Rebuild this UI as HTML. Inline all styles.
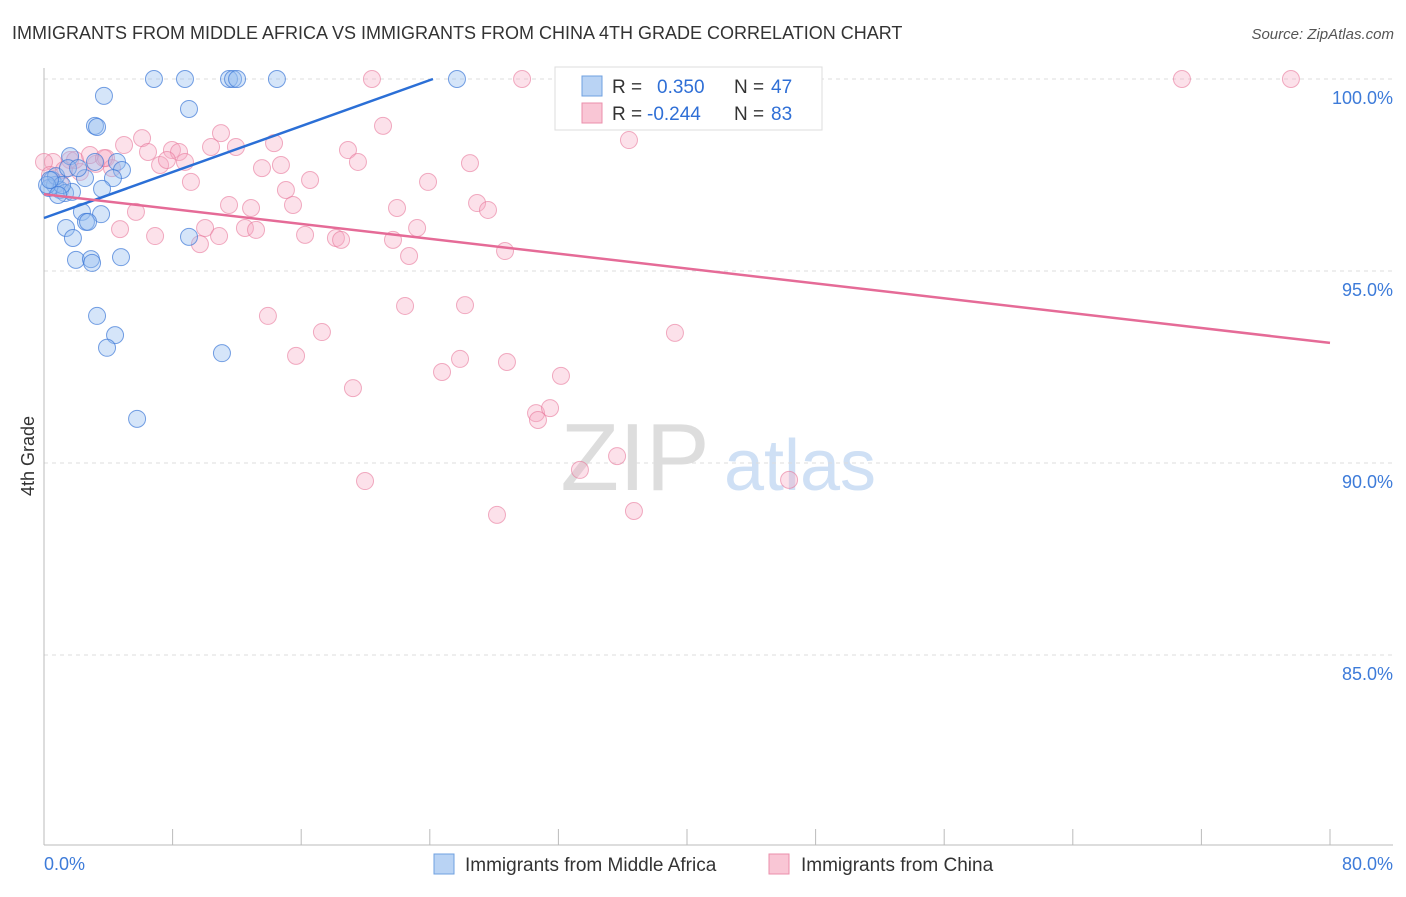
<!DOCTYPE html>
<html><head><meta charset="utf-8">
<style>
body{margin:0;background:#fff;font-family:"Liberation Sans",sans-serif;}
svg text{font-family:"Liberation Sans",sans-serif;}
</style></head>
<body>
<svg id="chart" width="1406" height="892" viewBox="0 0 1406 892" xmlns="http://www.w3.org/2000/svg">
<text x="12" y="39" font-size="18" fill="#333">IMMIGRANTS FROM MIDDLE AFRICA VS IMMIGRANTS FROM CHINA 4TH GRADE CORRELATION CHART</text>
<text x="1394" y="39" font-size="15" fill="#555" text-anchor="end" font-style="italic">Source: ZipAtlas.com</text>
<text x="34" y="456" font-size="18" fill="#333" transform="rotate(-90 34 456)" text-anchor="middle">4th Grade</text>
<g>
<text x="635" y="490" font-size="96" fill="#ddd" text-anchor="middle" font-family="Liberation Serif">ZIP</text>
<text x="800" y="490" font-size="72" fill="#cfe0f5" text-anchor="middle">atlas</text>
</g>
<g id="grid"></g>
<g id="axes"></g>
<g id="marks"></g>
<g>
<rect x="555" y="67" width="267" height="63" fill="#fff" stroke="#ddd"/>
<rect x="582" y="76" width="20" height="20" fill="#b9d3f4" stroke="#6fa0e0"/>
<text x="612" y="93" font-size="19" fill="#333">R =</text>
<text x="657" y="93" font-size="19" fill="#2f6fd6">0.350</text>
<text x="734" y="93" font-size="19" fill="#333">N =</text>
<text x="771" y="93" font-size="19" fill="#2f6fd6">47</text>
<rect x="582" y="103" width="20" height="20" fill="#f9c6d5" stroke="#eb8fab"/>
<text x="612" y="120" font-size="19" fill="#333">R =</text>
<text x="647" y="120" font-size="19" fill="#2f6fd6">-0.244</text>
<text x="734" y="120" font-size="19" fill="#333">N =</text>
<text x="771" y="120" font-size="19" fill="#2f6fd6">83</text>
</g>
<g>
<rect x="434" y="854" width="20" height="20" fill="#b9d3f4" stroke="#6fa0e0"/>
<text x="465" y="871" font-size="19" fill="#333">Immigrants from Middle Africa</text>
<rect x="769" y="854" width="20" height="20" fill="#f9c6d5" stroke="#eb8fab"/>
<text x="801" y="871" font-size="19" fill="#333">Immigrants from China</text>
</g>
</svg>
<script>
const blueX=[6.84,8.77,11.51,11.76,12.01,14.49,25.69,3.73,9.02,3.17,3.30,1.62,4.54,4.85,2.55,4.29,0.50,0.68,1.0,1.31,1.74,0.31,3.61,2.36,3.55,2.61,1.37,2.74,1.80,9.02,1.99,2.92,2.99,4.79,3.30,4.42,3.92,11.07,5.79,0.75,1.12,0.19,0.37,0.87,1.49,2.12,3.17];
const blueY=[100,100,100,100,100,100,100,99.56,99.22,98.78,98.75,97.99,97.84,97.63,97.42,97.42,97.37,97.24,97.11,97.03,97.06,97.16,97.14,96.54,96.48,96.28,96.12,96.28,95.86,95.89,95.29,95.31,95.21,95.36,93.83,93.33,93.0,92.86,91.15,97.47,97.24,97.24,97.37,96.98,97.68,97.68,97.84];
const pinkX=[32.91,29.74,20.40,41.18,70.79,77.57,0.56,0,1.62,3.23,3.86,4.98,6.10,6.47,7.22,7.96,8.40,8.77,7.65,9.14,10.39,11.01,11.94,14.31,13.56,14.74,15.05,16.55,15.49,11.51,12.88,10.02,12.50,13.19,10.89,9.70,6.91,5.72,4.73,16.24,18.16,18.48,18.91,19.53,21.09,21.71,21.96,22.71,23.21,23.89,26.50,26.94,27.62,28.68,36.39,22.46,26.19,17.29,15.68,19.22,24.76,25.88,28.80,32.16,39.25,13.93,30.61,31.48,30.73,33.34,35.65,19.97,28.18,36.70,46.35,4.23,2.24,1.0,1.93,1.24,2.86,0.37,3.73];
const pinkY=[100,100,100,100,100,100,97.84,97.84,97.89,97.79,97.94,98.28,98.46,98.10,97.76,98.15,98.10,97.84,97.89,97.32,98.23,98.59,98.23,98.33,97.68,97.76,97.11,97.37,96.72,96.72,96.64,96.12,96.12,96.07,95.91,95.70,95.91,96.54,96.09,95.94,95.86,95.81,98.15,97.84,98.78,95.81,96.64,95.39,96.12,97.32,97.81,96.77,96.59,95.52,98.41,94.09,94.11,93.41,92.79,91.95,92.37,92.71,92.63,92.27,93.39,93.83,91.30,91.43,91.12,89.82,90.18,89.53,88.65,88.75,89.56,97.68,97.58,97.29,97.89,97.63,98.02,97.50,97.94];
const blueTrend=[96.38,0.1496];
const pinkTrend=[97.0,-0.0484];
const yTicks=[100,95,90,85];
const yTickLabels=["100.0%","95.0%","90.0%","85.0%"];
const xTicks=[0,8,16,24,32,40,48,56,64,72,80];
const xEndLabels=["0.0%","80.0%"];

const NS="http://www.w3.org/2000/svg";
const X0=44,X1=1330,YTOP=79;
function xs(v){return X0+(X1-X0)*v/80;}
function ys(v){return YTOP+(100-v)*38.4;}
function mk(tag,attrs,parent){const e=document.createElementNS(NS,tag);for(const k in attrs)e.setAttribute(k,attrs[k]);parent.appendChild(e);return e;}
const grid=document.getElementById('grid'),axes=document.getElementById('axes'),marks=document.getElementById('marks');
yTicks.forEach((t,i)=>{
  const l=mk('line',{x1:44,x2:1393,y1:ys(t),y2:ys(t),stroke:'#ddd','stroke-dasharray':'4,4'},grid);
  
  
  const tx=mk('text',{x:1393,y:ys(t)+25,'font-size':18,fill:'#3d7bd9','text-anchor':'end'},axes);
  tx.textContent=yTickLabels[i];
  
  
});
const ya=mk('line',{x1:44,x2:44,y1:68,y2:845,stroke:'#bbb'},axes);


const xa=mk('line',{x1:44,x2:1393,y1:845,y2:845,stroke:'#bbb'},axes);


xTicks.forEach(t=>{
  const l=mk('line',{x1:xs(t),x2:xs(t),y1:829,y2:845,stroke:'#bbb'},axes);
  
  
});
const xl0=mk('text',{x:44,y:870,'font-size':18,fill:'#3d7bd9'},axes);xl0.textContent=xEndLabels[0];


const xl1=mk('text',{x:1393,y:870,'font-size':18,fill:'#3d7bd9','text-anchor':'end'},axes);xl1.textContent=xEndLabels[1];



pinkX.forEach((v,i)=>{
  const c=mk('circle',{cx:xs(v),cy:ys(pinkY[i]),r:8.5,fill:'rgba(246,170,195,0.35)',stroke:'rgba(232,120,155,0.6)','stroke-width':1},marks);
  
  
});
blueX.forEach((v,i)=>{
  const c=mk('circle',{cx:xs(v),cy:ys(blueY[i]),r:8.5,fill:'rgba(150,190,240,0.4)',stroke:'rgba(60,120,215,0.7)','stroke-width':1},marks);
  
  
});
const bEnd=(100-blueTrend[0])/blueTrend[1];
const bl=mk('line',{x1:xs(0),y1:ys(blueTrend[0]),x2:xs(bEnd),y2:ys(100),stroke:'#2b6fd6','stroke-width':2.5},marks);


const pl=mk('line',{x1:xs(0),y1:ys(pinkTrend[0]),x2:xs(80),y2:ys(pinkTrend[0]+pinkTrend[1]*80),stroke:'#e56b97','stroke-width':2.5},marks);


</script>
</body></html>
